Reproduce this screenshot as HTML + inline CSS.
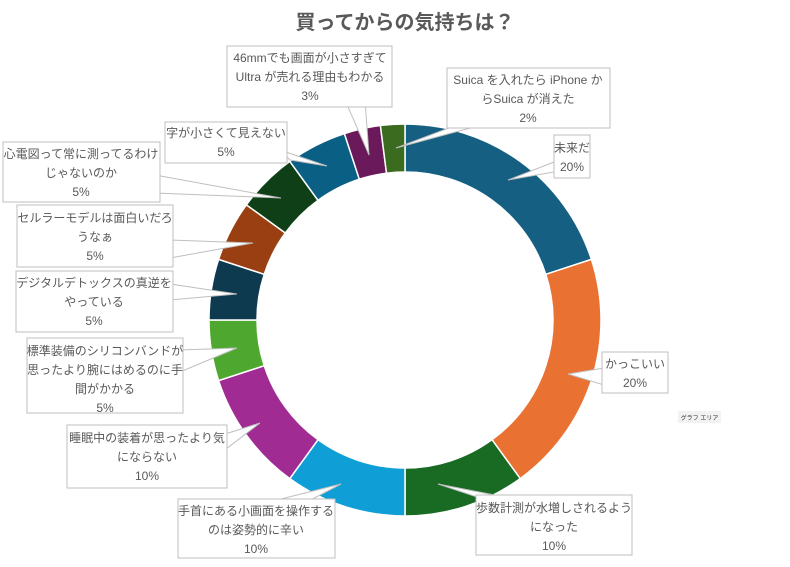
<!DOCTYPE html>
<html><head><meta charset="utf-8"><style>
html,body{margin:0;padding:0;background:#fff;}
svg{display:block;font-family:"Liberation Sans","Noto Sans CJK JP",sans-serif;}
.t{font-size:12px;fill:#595959;text-anchor:middle;}
.b{fill:#fff;stroke:#bfbfbf;stroke-width:1;}
</style></head><body>
<svg width="790" height="567" viewBox="0 0 790 567" xmlns="http://www.w3.org/2000/svg">
<rect width="790" height="567" fill="#fff"/>
<text x="405" y="29" text-anchor="middle" font-size="20" font-weight="bold" fill="#595959">買ってからの気持ちは？</text>
<g stroke="#fff" stroke-width="1.5">
<path d="M405,124 A196,196 0 0 1 591.4,259.4 L545.8,274.3 A148,148 0 0 0 405,172 Z" fill="#156082"/>
<path d="M591.4,259.4 A196,196 0 0 1 520.2,478.6 L492,439.7 A148,148 0 0 0 545.8,274.3 Z" fill="#e97132"/>
<path d="M520.2,478.6 A196,196 0 0 1 405,516 L405,468 A148,148 0 0 0 492,439.7 Z" fill="#196b24"/>
<path d="M405,516 A196,196 0 0 1 289.8,478.6 L318,439.7 A148,148 0 0 0 405,468 Z" fill="#0f9ed5"/>
<path d="M289.8,478.6 A196,196 0 0 1 218.6,380.6 L264.2,365.7 A148,148 0 0 0 318,439.7 Z" fill="#a02b93"/>
<path d="M218.6,380.6 A196,196 0 0 1 209,320 L257,320 A148,148 0 0 0 264.2,365.7 Z" fill="#4ea72e"/>
<path d="M209,320 A196,196 0 0 1 218.6,259.4 L264.2,274.3 A148,148 0 0 0 257,320 Z" fill="#0d3a4f"/>
<path d="M218.6,259.4 A196,196 0 0 1 246.4,204.8 L285.3,233 A148,148 0 0 0 264.2,274.3 Z" fill="#9a3f12"/>
<path d="M246.4,204.8 A196,196 0 0 1 289.8,161.4 L318,200.3 A148,148 0 0 0 285.3,233 Z" fill="#0e3f16"/>
<path d="M289.8,161.4 A196,196 0 0 1 344.4,133.6 L359.3,179.2 A148,148 0 0 0 318,200.3 Z" fill="#0a5f84"/>
<path d="M344.4,133.6 A196,196 0 0 1 380.4,125.5 L386.5,173.2 A148,148 0 0 0 359.3,179.2 Z" fill="#6a1a5a"/>
<path d="M380.4,125.5 A196,196 0 0 1 405,124 L405,172 A148,148 0 0 0 386.5,173.2 Z" fill="#3b6b1f"/>
</g>
<!-- callouts -->
<g>
<polygon class="b" points="470,120 500,120 396,148"/>
<rect class="b" x="447" y="68" width="163" height="60"/>
<text class="t" x="528" y="84">Suica を入れたら iPhone か</text>
<text class="t" x="528" y="103">らSuica が消えた</text>
<text class="t" x="528" y="122">2%</text>

<polygon class="b" points="554,162 554,172 508,180"/>
<rect class="b" x="554" y="135" width="36" height="43"/>
<text class="t" x="572" y="152">未来だ</text>
<text class="t" x="572" y="171">20%</text>

<polygon class="b" points="345,100 365,100 369,155"/>
<rect class="b" x="227" y="46" width="165" height="61"/>
<text class="t" x="310" y="62">46mmでも画面が小さすぎて</text>
<text class="t" x="310" y="81">Ultra が売れる理由もわかる</text>
<text class="t" x="310" y="100">3%</text>

<polygon class="b" points="280,150 290,160 327,166"/>
<rect class="b" x="165" y="122" width="122" height="41"/>
<text class="t" x="226" y="137">字が小さくて見えない</text>
<text class="t" x="226" y="156">5%</text>

<polygon class="b" points="155,175 155,193 281,198"/>
<rect class="b" x="3" y="142" width="157" height="60"/>
<text class="t" x="81" y="158">心電図って常に測ってるわけ</text>
<text class="t" x="81" y="177">じゃないのか</text>
<text class="t" x="81" y="196">5%</text>

<polygon class="b" points="170,240 170,258 253,243"/>
<rect class="b" x="17" y="205" width="156" height="62"/>
<text class="t" x="95" y="222">セルラーモデルは面白いだろ</text>
<text class="t" x="95" y="241">うなぁ</text>
<text class="t" x="95" y="260">5%</text>

<polygon class="b" points="170,284 170,300 237,294"/>
<rect class="b" x="16" y="271" width="157" height="61"/>
<text class="t" x="94" y="287">デジタルデトックスの真逆を</text>
<text class="t" x="94" y="306">やっている</text>
<text class="t" x="94" y="325">5%</text>

<polygon class="b" points="180,350 180,372 237,348"/>
<rect class="b" x="27" y="338" width="156" height="75"/>
<text class="t" x="105" y="355">標準装備のシリコンバンドが</text>
<text class="t" x="105" y="374">思ったより腕にはめるのに手</text>
<text class="t" x="105" y="393">間がかかる</text>
<text class="t" x="105" y="412">5%</text>

<polygon class="b" points="222,435 222,452 260,423"/>
<rect class="b" x="67" y="425" width="160" height="63"/>
<text class="t" x="147" y="442">睡眠中の装着が思ったより気</text>
<text class="t" x="147" y="461">にならない</text>
<text class="t" x="147" y="480">10%</text>

<polygon class="b" points="265,503 305,503 341,484"/>
<rect class="b" x="178" y="499" width="157" height="59"/>
<text class="t" x="256" y="515">手首にある小画面を操作する</text>
<text class="t" x="256" y="534">のは姿勢的に辛い</text>
<text class="t" x="256" y="553">10%</text>

<polygon class="b" points="480,498 510,498 438,484"/>
<rect class="b" x="476" y="495" width="156" height="60"/>
<text class="t" x="554" y="512">歩数計測が水増しされるよう</text>
<text class="t" x="554" y="531">になった</text>
<text class="t" x="554" y="550">10%</text>

<polygon class="b" points="604,368 604,385 568,374"/>
<rect class="b" x="602" y="352" width="66" height="41"/>
<text class="t" x="635" y="368">かっこいい</text>
<text class="t" x="635" y="387">20%</text>

<rect x="678" y="411" width="43" height="12" fill="#f2f2f2"/>
<text x="699.5" y="420" font-size="6" fill="#333" text-anchor="middle">グラフ エリア</text>
</g>
</svg>
</body></html>
